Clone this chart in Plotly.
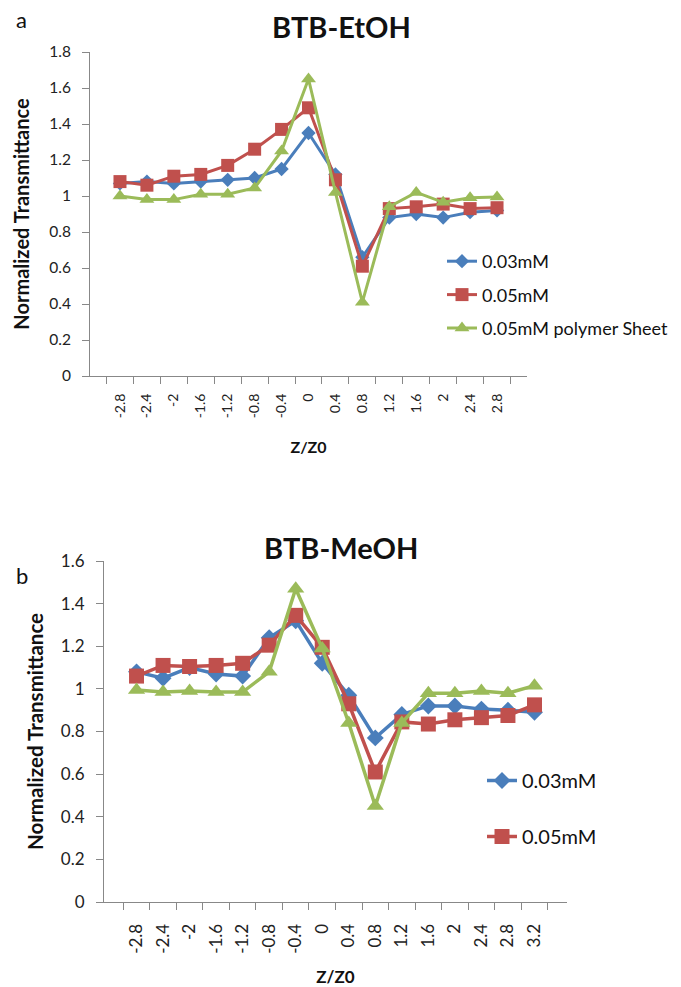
import plotly.graph_objects as go

# ---- data ----
z_a = ["-2.8", "-2.4", "-2", "-1.6", "-1.2", "-0.8", "-0.4", "0", "0.4", "0.8", "1.2", "1.6", "2", "2.4", "2.8"]
a_003 = [1.07, 1.08, 1.07, 1.08, 1.09, 1.10, 1.15, 1.35, 1.12, 0.66, 0.88, 0.90, 0.88, 0.91, 0.92]
a_005 = [1.08, 1.06, 1.11, 1.12, 1.17, 1.26, 1.37, 1.49, 1.09, 0.61, 0.93, 0.94, 0.955, 0.93, 0.935]
a_poly = [1.00, 0.98, 0.98, 1.01, 1.01, 1.045, 1.25, 1.65, 1.02, 0.41, 0.94, 1.02, 0.965, 0.99, 0.995]

z_b = ["-2.8", "-2.4", "-2", "-1.6", "-1.2", "-0.8", "-0.4", "0", "0.4", "0.8", "1.2", "1.6", "2", "2.4", "2.8", "3.2"]
b_003 = [1.08, 1.05, 1.10, 1.07, 1.06, 1.24, 1.32, 1.12, 0.97, 0.77, 0.88, 0.92, 0.92, 0.905, 0.90, 0.89]
b_005 = [1.06, 1.11, 1.105, 1.11, 1.12, 1.205, 1.345, 1.195, 0.93, 0.61, 0.845, 0.835, 0.855, 0.865, 0.875, 0.925]
b_poly = [0.995, 0.985, 0.99, 0.985, 0.985, 1.08, 1.47, 1.19, 0.84, 0.45, 0.84, 0.98, 0.98, 0.99, 0.98, 1.015]

names = ["0.03mM", "0.05mM", "0.05mM polymer Sheet"]
colors = ["#4A7EBB", "#C0504D", "#9BBB59"]
symbols = ["diamond", "square", "triangle-up"]

FONT = "Lato"
W, H = 681, 987

fig = go.Figure()

for i, ys in enumerate([a_003, a_005, a_poly]):
    fig.add_trace(go.Scatter(
        x=z_a, y=ys, name=names[i], mode="lines+markers",
        line=dict(color=colors[i], width=3),
        marker=dict(symbol=symbols[i], size=[11, 13, 13][i], color=colors[i]),
        xaxis="x", yaxis="y", legend="legend", legendgroup="a%d" % i,
    ))

for i, ys in enumerate([b_003, b_005, b_poly]):
    fig.add_trace(go.Scatter(
        x=z_b, y=ys, name=names[i], mode="lines+markers",
        line=dict(color=colors[i], width=3.5),
        marker=dict(symbol=symbols[i], size=[13, 15, 15][i], color=colors[i]),
        xaxis="x2", yaxis="y2", legend="legend2", legendgroup="b%d" % i,
        showlegend=(i < 2),
    ))

def px_x(p):
    return p / W

def px_y(p):
    return 1 - p / H

def axis_common(fs, standoff):
    return dict(
        showgrid=False, zeroline=False, showline=True, linecolor="#888888", linewidth=1,
        ticks="outside", tickcolor="#888888", ticklen=7, ticklabelstandoff=standoff,
        tickfont=dict(family=FONT, size=fs, color="#222"),
    )

annots = [
    dict(text="<b>BTB-EtOH</b>", x=px_x(341), y=px_y(27), xref="paper", yref="paper",
         yanchor="middle", showarrow=False, font=dict(family=FONT, size=29, color="#111")),
    dict(text="<b>BTB-MeOH</b>", x=px_x(341), y=px_y(547), xref="paper", yref="paper",
         yanchor="middle", showarrow=False, font=dict(family=FONT, size=29, color="#111")),
    dict(text="a", x=px_x(14), y=px_y(19), xref="paper", yref="paper",
         yanchor="middle", showarrow=False, font=dict(family=FONT, size=22, color="#111")),
    dict(text="b", x=px_x(14), y=px_y(575), xref="paper", yref="paper",
         yanchor="middle", showarrow=False, font=dict(family=FONT, size=22, color="#111")),
]

fig.update_layout(
    width=W, height=H,
    margin=dict(l=0, r=0, t=0, b=0, autoexpand=False),
    paper_bgcolor="white", plot_bgcolor="white",
    font=dict(family=FONT, color="#111"),
    xaxis=dict(axis_common(14, 11), domain=[px_x(90), px_x(527)], anchor="y", type="category",
               tickson="boundaries", tickangle=-90, automargin=False,
               title=dict(text="<b>Z/Z0</b>", font=dict(family=FONT, size=16), standoff=24)),
    yaxis=dict(axis_common(15.5, 8), domain=[px_y(376), px_y(52)], anchor="x", range=[0, 1.8],
               dtick=0.2, tickformat="~g", automargin=False,
               title=dict(text="<b>Normalized Transmittance</b>", font=dict(family=FONT, size=20), standoff=14)),
    xaxis2=dict(axis_common(17, 14), domain=[px_x(104), px_x(567)], anchor="y2", type="category",
                tickson="boundaries", tickangle=-90, automargin=False,
                title=dict(text="<b>Z/Z0</b>", font=dict(family=FONT, size=17), standoff=20)),
    yaxis2=dict(axis_common(17, 8), domain=[px_y(902), px_y(561)], anchor="x2", range=[0, 1.6],
                dtick=0.2, tickformat="~g", automargin=False,
                title=dict(text="<b>Normalized Transmittance</b>", font=dict(family=FONT, size=20.5), standoff=11)),
    legend=dict(x=px_x(442), y=px_y(243), xanchor="left", yanchor="top",
                font=dict(family=FONT, size=18, color="#111"), bgcolor="rgba(0,0,0,0)",
                tracegroupgap=7, traceorder="grouped", itemwidth=30),
    legend2=dict(x=px_x(482), y=px_y(761), xanchor="left", yanchor="top",
                 font=dict(family=FONT, size=20, color="#111"), bgcolor="rgba(0,0,0,0)",
                 tracegroupgap=27, traceorder="grouped", itemwidth=30),
    showlegend=True,
    annotations=annots,
)

fig.write_html("out.html", config={"displayModeBar": False},
               post_script="document.body.style.margin='0';")
